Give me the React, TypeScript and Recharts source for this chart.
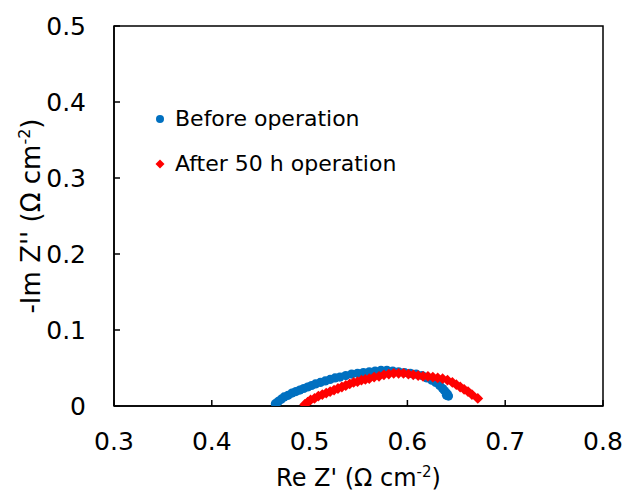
import { ScatterChart, Scatter, XAxis, YAxis, ZAxis, Legend, Label, ReferenceArea } from 'recharts';

const FONT = '"DejaVu Sans", Arial, sans-serif';

// Nyquist data, Re Z' / -Im Z'' in ohm cm^-2
const seriesNames = ['Before operation', 'After 50 h operation'];

const beforeRe = [
  0.465, 0.468, 0.471, 0.474, 0.478, 0.482, 0.486, 0.49, 0.494, 0.498, 0.502, 0.506, 0.511, 0.516,
  0.521, 0.526, 0.531, 0.537, 0.543, 0.549, 0.555, 0.561, 0.567, 0.573, 0.579, 0.585, 0.591, 0.597,
  0.603, 0.609, 0.615, 0.62, 0.625, 0.629, 0.633, 0.636, 0.638, 0.64, 0.641, 0.642, 0.64,
];
const beforeIm = [
  0.003, 0.006, 0.009, 0.012, 0.014, 0.017, 0.019, 0.021, 0.023, 0.025, 0.027, 0.029, 0.031, 0.033,
  0.035, 0.037, 0.038, 0.04, 0.042, 0.043, 0.044, 0.045, 0.046, 0.047, 0.047, 0.046, 0.045, 0.044,
  0.043, 0.042, 0.04, 0.037, 0.034, 0.031, 0.027, 0.023, 0.02, 0.017, 0.015, 0.013, 0.014,
];
const afterRe = [
  0.495, 0.498, 0.501, 0.505, 0.509, 0.513, 0.517, 0.521, 0.525, 0.529, 0.533, 0.537, 0.541, 0.545,
  0.549, 0.553, 0.557, 0.561, 0.566, 0.571, 0.576, 0.581, 0.586, 0.591, 0.596, 0.601, 0.606, 0.611,
  0.616, 0.621, 0.626, 0.631, 0.636, 0.641, 0.646, 0.65, 0.654, 0.658, 0.662, 0.666, 0.672,
];
const afterIm = [
  0.002, 0.005, 0.008, 0.01, 0.013, 0.015, 0.017, 0.019, 0.021, 0.023, 0.025, 0.027, 0.029, 0.031,
  0.032, 0.034, 0.035, 0.036, 0.038, 0.039, 0.041, 0.042, 0.043, 0.043, 0.043, 0.042, 0.041, 0.04,
  0.039, 0.039, 0.038, 0.037, 0.036, 0.034, 0.031, 0.028, 0.025, 0.022, 0.019, 0.015, 0.01,
];

const xTicks = [0.3, 0.4, 0.5, 0.6, 0.7, 0.8];
const yTicks = [0, 0.1, 0.2, 0.3, 0.4, 0.5];

const BLUE = '#0070C0';
const RED = '#FF0000';

const beforeData = beforeRe.map((re, i) => ({ re, im: beforeIm[i] }));
const afterData = afterRe.map((re, i) => ({ re, im: afterIm[i] }));

const Dot = (props: any) => <circle cx={props.cx} cy={props.cy} r={4.6} fill={BLUE} />;

const Diamond = (props: any) => {
  const { cx, cy } = props;
  const h = 5.4;
  return <path d={`M${cx},${cy - h}L${cx + h},${cy}L${cx},${cy + h}L${cx - h},${cy}Z`} fill={RED} />;
};

const fmt = (v: number) => (v === 0 ? '0' : v.toFixed(1));

// legend drawn in series order (Recharts sorts the payload by name)
const renderLegend = () => (
  <div style={{ fontFamily: FONT, fontSize: 22, color: '#000' }}>
    {seriesNames.map((name, i) => (
      <div key={name} style={{ display: 'flex', alignItems: 'center', height: 45 }}>
        <svg width={10} height={10} style={{ marginRight: 10 }}>
          {i === 0 ? (
            <circle cx={5} cy={5} r={4} fill={BLUE} />
          ) : (
            <path d="M5,0.5L9.5,5L5,9.5L0.5,5Z" fill={RED} />
          )}
        </svg>
        <span>{name}</span>
      </div>
    ))}
  </div>
);

const XTitle = (props: any) => {
  const vb = props.viewBox;
  return (
    <text x={vb.x + vb.width / 2} y={vb.y + 80} textAnchor="middle" fontFamily={FONT} fontSize={24} fill="#000">
      Re Z' (Ω cm
      <tspan fontSize={15} dy={-9}>-2</tspan>
      <tspan dy={9}>)</tspan>
    </text>
  );
};

const YTitle = (props: any) => {
  const vb = props.viewBox;
  const cx = 40;
  const cy = vb.y + vb.height / 2;
  return (
    <text x={cx} y={cy} transform={`rotate(-90, ${cx}, ${cy})`} textAnchor="middle" fontFamily={FONT} fontSize={26} fill="#000">
      -Im Z'' (Ω cm
      <tspan fontSize={16} dy={-10}>-2</tspan>
      <tspan dy={10}>)</tspan>
    </text>
  );
};

export default function App() {
  return (
    <div style={{ position: 'absolute', left: 0, top: 0, background: '#fff' }}>
      <ScatterChart width={627} height={492} margin={{ top: 26, right: 24, left: 34, bottom: 26 }}>
        <ReferenceArea x1={0.3} x2={0.8} y1={0} y2={0.5} fill="none" stroke="#000" strokeWidth={1.5} />
        <XAxis
          type="number"
          dataKey="re"
          domain={[0.3, 0.8]}
          ticks={xTicks}
          tickFormatter={fmt}
          height={60}
          tickSize={-6}
          tickMargin={32}
          axisLine={{ stroke: '#000', strokeWidth: 1.5 }}
          tickLine={{ stroke: '#000', strokeWidth: 1.5 }}
          tick={{ fill: '#000', fontSize: 25, fontFamily: FONT }}
          allowDataOverflow
        >
          <Label content={XTitle} />
        </XAxis>
        <YAxis
          type="number"
          dataKey="im"
          domain={[0, 0.5]}
          ticks={yTicks}
          tickFormatter={fmt}
          width={80}
          tickSize={-6}
          tickMargin={34}
          axisLine={{ stroke: '#000', strokeWidth: 1.5 }}
          tickLine={{ stroke: '#000', strokeWidth: 1.5 }}
          tick={{ fill: '#000', fontSize: 25, fontFamily: FONT }}
          allowDataOverflow
        >
          <Label content={YTitle} />
        </YAxis>
        <ZAxis range={[60, 60]} />
        <Legend
          content={renderLegend}
          layout="vertical"
          align="center"
          verticalAlign="middle"
          wrapperStyle={{ left: 155, top: 96, width: 320 }}
        />
        <Scatter name={seriesNames[0]} data={beforeData} fill={BLUE} shape={Dot} isAnimationActive={false} />
        <Scatter name={seriesNames[1]} data={afterData} fill={RED} shape={Diamond} isAnimationActive={false} />
      </ScatterChart>
    </div>
  );
}
